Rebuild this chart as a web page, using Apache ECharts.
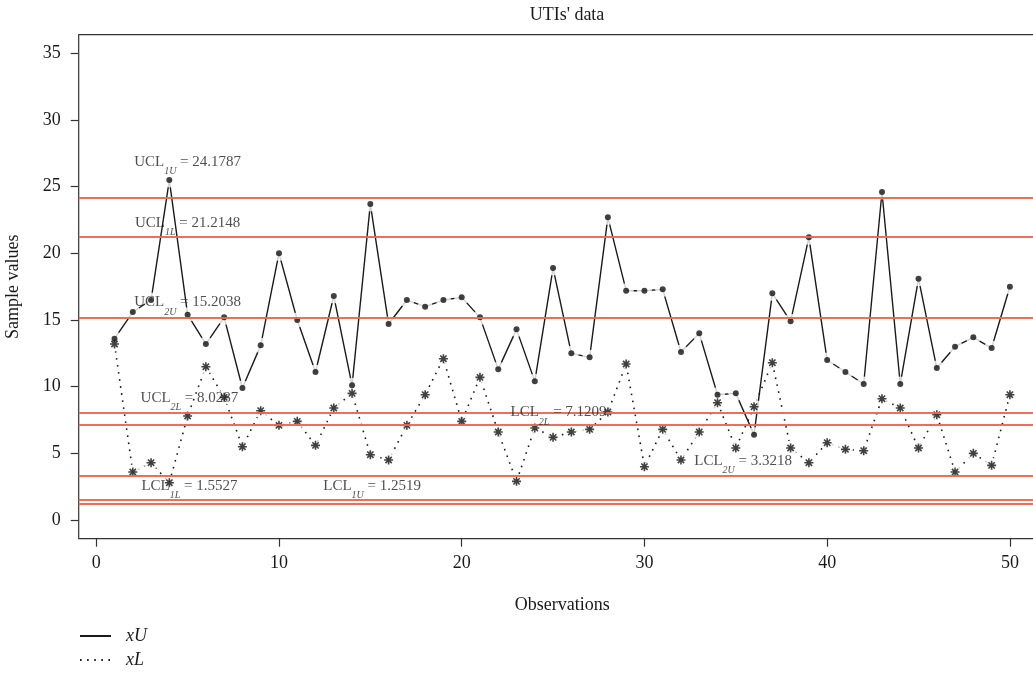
<!DOCTYPE html>
<html>
<head>
<meta charset="utf-8">
<title>UTIs' data</title>
<script src="https://cdn.jsdelivr.net/npm/echarts@6/dist/echarts.min.js"></script>
<style>
  html, body { margin: 0; padding: 0; background: #fff; }
  #main { width: 1033px; height: 673px; }
</style>
</head>
<body>
<div id="main"></div>
<script>
// observation index
var obs = [1, 2, 3, 4, 5, 6, 7, 8, 9, 10,
           11, 12, 13, 14, 15, 16, 17, 18, 19, 20,
           21, 22, 23, 24, 25, 26, 27, 28, 29, 30,
           31, 32, 33, 34, 35, 36, 37, 38, 39, 40,
           41, 42, 43, 44, 45, 46, 47, 48, 49, 50];

// upper values (solid line, dots)
var xU = [13.6, 15.6, 16.5, 25.5, 15.4, 13.2, 15.2, 9.9, 13.1, 20.0,
          15.0, 11.1, 16.8, 10.1, 23.7, 14.7, 16.5, 16.0, 16.5, 16.7,
          15.2, 11.3, 14.3, 10.4, 18.9, 12.5, 12.2, 22.7, 17.2, 17.2,
          17.3, 12.6, 14.0, 9.4, 9.5, 6.4, 17.0, 14.9, 21.2, 12.0,
          11.1, 10.2, 24.6, 10.2, 18.1, 11.4, 13.0, 13.7, 12.9, 17.5];

// lower values (dotted line, asterisks)
var xL = [13.2, 3.6, 4.3, 2.8, 7.8, 11.5, 9.2, 5.5, 8.2, 7.1,
          7.4, 5.6, 8.4, 9.5, 4.9, 4.5, 7.1, 9.4, 12.1, 7.4,
          10.7, 6.6, 2.9, 6.9, 6.2, 6.6, 6.8, 8.1, 11.7, 4.0,
          6.8, 4.5, 6.6, 8.8, 5.4, 8.5, 11.8, 5.4, 4.3, 5.8,
          5.3, 5.2, 9.1, 8.4, 5.4, 7.9, 3.6, 5.0, 4.1, 9.4];

// control limits
var limitName = ['UCL', 'UCL', 'UCL', 'UCL', 'LCL', 'LCL', 'LCL', 'LCL'];
var limitSub  = ['1U', '1L', '2U', '2L', '1L', '1U', '2L', '2U'];
var limitVal  = [24.1787, 21.2148, 15.2038, 8.0287, 1.5527, 1.2519, 7.1209, 3.3218];
// where each limit label sits (data units)
var labelX = [5, 5, 5, 5.1, 5.1, 15.1, 25.3, 35.4];
var labelY = [26.6, 22.0, 16.05, 8.9, 2.3, 2.3, 7.8, 4.18];

var xTicks = [0, 10, 20, 30, 40, 50];
var yTicks = [0, 5, 10, 15, 20, 25, 30, 35];

var serif = '"Liberation Serif", "DejaVu Serif", serif';
var ink = '#1a1a1a';
var red = '#ee6650';
var asterisk = 'path://M5,0L5,10M0,5L10,5M1.5,1.5L8.5,8.5M1.5,8.5L8.5,1.5';

function pairs(ys) {
    return obs.map(function (x, i) { return [x, ys[i]]; });
}

var labelData = limitVal.map(function (v, i) {
    return {
        value: [labelX[i], labelY[i]],
        label: { formatter: '{n|' + limitName[i] + '}{s|' + limitSub[i] + '}{n| = ' + limitVal[i] + '}' }
    };
});

var myChart = echarts.init(document.getElementById('main'));

var option = {
    backgroundColor: '#fff',
    animation: false,
    title: {
        text: "UTIs' data",
        left: 562, top: 1, textAlign: 'center',
        textStyle: { fontFamily: serif, fontSize: 18, fontWeight: 'normal', color: ink }
    },
    legend: {
        orient: 'vertical',
        left: 74, top: 622, height: 60,
        itemWidth: 31, itemHeight: 12, itemGap: 6,
        data: ['xU', 'xL'],
        itemStyle: { opacity: 0 },
        textStyle: { fontFamily: serif, fontSize: 18, fontStyle: 'italic', color: ink, padding: [0, 0, 0, 10] }
    },
    grid: {
        left: 78.7, top: 34.7, width: 967, height: 504,
        outerBoundsMode: 'none', containLabel: false,
        show: true, borderColor: '#333', borderWidth: 1.2, backgroundColor: 'transparent'
    },
    xAxis: {
        type: 'value', min: -0.96, max: 51.96,
        name: 'Observations', nameLocation: 'middle', nameGap: 58,
        nameTextStyle: { fontFamily: serif, fontSize: 18, color: ink },
        splitLine: { show: false },
        axisLine: { show: false, onZero: false },
        axisTick: { show: true, inside: false, length: 8, customValues: xTicks, lineStyle: { color: '#333', width: 1.2 } },
        axisLabel: { customValues: xTicks, margin: 16, fontFamily: serif, fontSize: 18, color: ink }
    },
    yAxis: {
        type: 'value', min: -1.4, max: 36.4,
        name: 'Sample values', nameLocation: 'middle', nameGap: 56,
        nameTextStyle: { fontFamily: serif, fontSize: 18, color: ink },
        splitLine: { show: false },
        axisLine: { show: false, onZero: false },
        axisTick: { show: true, inside: false, length: 8, customValues: yTicks, lineStyle: { color: '#333', width: 1.2 } },
        axisLabel: { customValues: yTicks, margin: 18, fontFamily: serif, fontSize: 18, color: ink }
    },
    series: [
        {
            name: 'xU', type: 'line', data: pairs(xU), z: 2,
            symbol: 'none', silent: true,
            lineStyle: { color: ink, width: 1.4 },
            itemStyle: { color: ink }
        },
        {
            name: 'xL', type: 'line', data: pairs(xL), z: 2,
            symbol: 'none', silent: true,
            lineStyle: { color: ink, width: 1.6, type: [1.6, 5.5] },
            itemStyle: { color: ink }
        },
        {   // white gaps around the points (R type = "b")
            type: 'scatter', data: pairs(xU), z: 3, silent: true,
            symbol: 'circle', symbolSize: 15, itemStyle: { color: '#fff' }
        },
        {
            type: 'scatter', data: pairs(xL), z: 3, silent: true,
            symbol: 'circle', symbolSize: 15, itemStyle: { color: '#fff' }
        },
        {
            type: 'scatter', data: pairs(xU), z: 4, silent: true,
            symbol: 'circle', symbolSize: 6, itemStyle: { color: '#111' }
        },
        {
            type: 'scatter', data: pairs(xL), z: 4, silent: true,
            symbol: asterisk, symbolSize: 9, symbolKeepAspect: true,
            itemStyle: { color: 'none', borderColor: '#111', borderWidth: 1.6 }
        },
        {   // control limit lines and their labels
            type: 'scatter', data: labelData, z: 5, silent: true,
            symbolSize: 0,
            label: {
                show: true, position: 'inside',
                color: '#222', fontFamily: serif,
                rich: {
                    n: { fontFamily: serif, fontSize: 15, color: '#222', lineHeight: 22, verticalAlign: 'top' },
                    s: { fontFamily: serif, fontSize: 10, fontStyle: 'italic', color: '#222', lineHeight: 10, verticalAlign: 'bottom' }
                }
            },
            markLine: {
                silent: true, symbol: 'none', animation: false,
                label: { show: false },
                lineStyle: { color: red, width: 2, type: 'solid', opacity: 0.95 },
                data: limitVal.map(function (v) { return { yAxis: v }; })
            }
        }
    ]
};

myChart.setOption(option);
</script>
</body>
</html>
